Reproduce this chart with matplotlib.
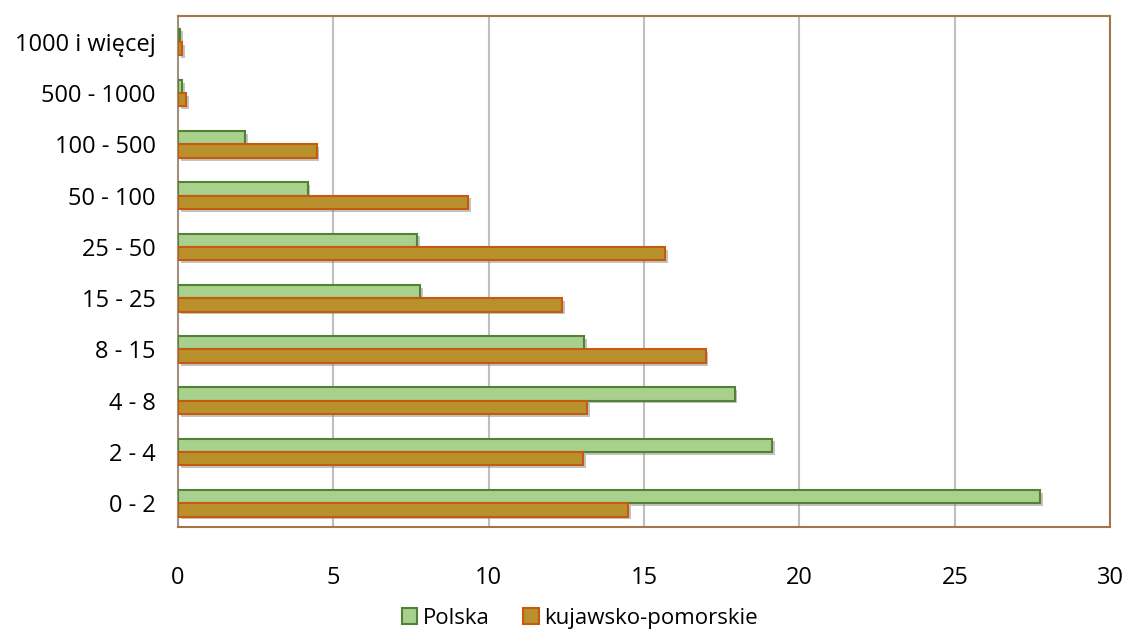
import matplotlib
matplotlib.use("Agg")
import matplotlib.pyplot as plt
import matplotlib.patheffects as pe
import numpy as np

categories = ["0 - 2", "2 - 4", "4 - 8", "8 - 15", "15 - 25", "25 - 50",
              "50 - 100", "100 - 500", "500 - 1000", "1000 i więcej"]
polska = [27.74, 19.13, 17.91, 13.07, 7.80, 7.70, 4.17, 2.15, 0.13, 0.06]
kujawsko = [14.48, 13.03, 13.16, 16.98, 12.36, 15.67, 9.34, 4.46, 0.26, 0.13]

plt.rcParams["font.family"] = ["Open Sans", "DejaVu Sans"]

fig = plt.figure(figsize=(11.26, 6.3), dpi=100)
ax = fig.add_axes([0.158, 0.163, 0.828, 0.812])

y = np.arange(len(categories))
h = 0.26
shadow = [pe.SimplePatchShadow(offset=(2, -2), shadow_rgbFace="#888888", alpha=0.5), pe.Normal()]
b1 = ax.barh(y + 0.13, polska, height=h, color="#A9D18E", edgecolor="#548235", linewidth=1.5,
             label="Polska", zorder=3)
b2 = ax.barh(y - 0.13, kujawsko, height=h, color="#B8902C", edgecolor="#C55A11", linewidth=1.5,
             label="kujawsko-pomorskie", zorder=3)
for b in list(b1) + list(b2):
    b.set_path_effects(shadow)

ax.set_xlim(0, 30)
ax.set_ylim(-0.47, 9.51)
ax.set_xticks(range(0, 31, 5))
ax.set_yticks(y)
ax.set_yticklabels(categories)
ax.tick_params(axis="both", length=0, labelsize=17, colors="black")
ax.tick_params(axis="x", pad=28)
ax.tick_params(axis="y", pad=16)
ax.grid(axis="x", color="#BFBFBF", linewidth=1.5, zorder=0)
ax.set_axisbelow(True)
for s in ax.spines.values():
    s.set_color("#A5754A")
    s.set_linewidth(1.5)
ax.spines["left"].set_color("#A09080")

leg = ax.legend(loc="center", bbox_to_anchor=(0.431, -0.178), ncol=2, frameon=False,
                fontsize=16, handlelength=0.7, handleheight=0.7, handletextpad=0.25,
                columnspacing=1.5)
for p in leg.get_patches():
    p.set_path_effects([pe.Normal()])

plt.savefig("out.png", dpi=100, facecolor="white")
plt.close()
